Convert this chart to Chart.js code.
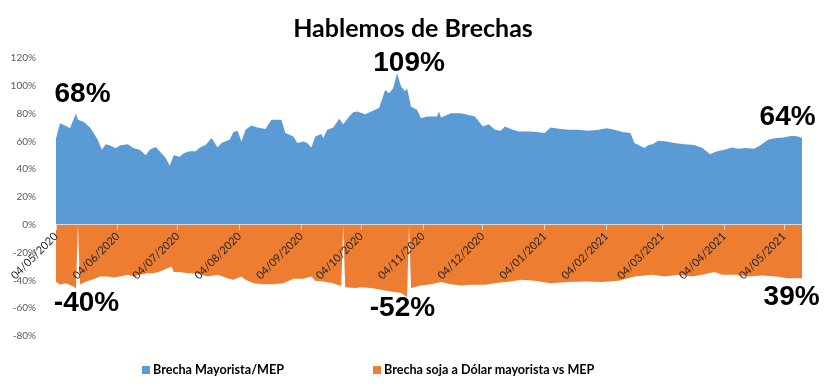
<!DOCTYPE html>
<html>
<head>
<meta charset="utf-8">
<script src="https://cdn.jsdelivr.net/npm/chart.js@4.4.1/dist/chart.umd.min.js"></script>
<style>
    body { margin: 0; background: #fff; }
    #wrap { position: relative; width: 826px; height: 387px; }
    #titulo { position: absolute; top: 12px; left: 0; width: 826px; text-align: center; font: bold 25px Lato, sans-serif; line-height: 30px; color: #000; }
    .ley { position: absolute; top: 362px; font: bold 12.6px Lato, sans-serif; color: #000; white-space: nowrap; line-height: 15px; }
    .ley span { display: inline-block; width: 8px; height: 8px; margin-right: 3px; }
</style>
<title>Hablemos de Brechas</title>
</head>
<body>
<div id="wrap">
    <canvas id="c1"></canvas>
    <div id="titulo">Hablemos de Brechas</div>
    <div class="ley" style="left:142px;"><span style="background:#5B9BD5"></span>Brecha Mayorista/MEP</div>
    <div class="ley" style="left:373px;"><span style="background:#ED7D31"></span>Brecha soja a Dólar mayorista vs MEP</div>
</div>
<script>
"use strict";

// dias contados desde el 04/05/2020
const inicio = "04/05/2020";

const diasMayorista = [0, 2, 5, 7, 10, 11, 14, 17, 18, 21, 23, 25, 27, 30, 32, 36, 39, 42, 45, 47, 50, 52, 55, 57, 59, 62, 64, 67, 70, 72, 75, 78, 81, 83, 87, 89, 91, 93, 95, 98, 101, 105, 108, 113, 115, 119, 121, 124, 126, 128, 130, 133, 134, 136, 139, 142, 144, 147, 149, 151, 155, 158, 162, 165, 167, 169, 171, 173, 175, 176, 178, 181, 183, 186, 191, 192, 193, 198, 203, 210, 214, 217, 220, 223, 225, 229, 232, 237, 241, 245, 248, 253, 257, 262, 267, 272, 276, 280, 284, 288, 290, 295, 297, 299, 302, 306, 310, 315, 320, 324, 328, 331, 335, 339, 342, 346, 350, 353, 357, 361, 365, 369, 372, 374];
const brechaMayorista = [62, 73, 71, 69.5, 80, 75.5, 74, 70, 68, 61, 54, 58, 57, 55, 57, 58, 55, 54, 50, 54, 56, 53, 48, 42.5, 50, 49, 51.5, 53, 53, 55.5, 57.5, 62.4, 55.6, 58.8, 61.2, 66.7, 67.6, 60, 68.3, 71.4, 70, 69, 75.5, 75.5, 66, 63.5, 58.8, 60, 58.8, 55.6, 63.5, 65.3, 62.4, 68.3, 70, 76.3, 72.4, 77.9, 81, 81.5, 79.6, 81.5, 84, 97, 94.7, 98.3, 109, 99.5, 96, 98.3, 85, 82.7, 76.7, 77.9, 77.9, 81.5, 77.2, 80.3, 80.3, 77.9, 70.7, 72.4, 68.3, 67.6, 70.7, 68.3, 67.1, 67.1, 66.7, 66, 70, 69, 68.3, 68.3, 67.6, 68.3, 69.5, 68.3, 66.7, 66, 58.8, 55.2, 57.5, 58, 60.4, 60, 58.8, 58, 57.5, 55.2, 50.8, 52.7, 54, 55.6, 54.7, 55.2, 54.7, 57, 61.2, 62.4, 62.8, 64, 63.5, 62.4];

const diasSoja = [0, 2, 5, 9, 10, 11, 12, 15, 19, 22, 26, 29, 32, 36, 39, 42, 46, 49, 52, 56, 58, 59, 62, 66, 69, 72, 76, 81, 86, 89, 93, 95, 99, 104, 109, 114, 119, 124, 128, 130, 134, 139, 142, 143, 144, 145, 150, 153, 158, 163, 168, 173, 176, 177, 178, 183, 188, 193, 198, 203, 208, 215, 220, 225, 228, 233, 240, 248, 257, 265, 274, 282, 290, 295, 299, 305, 312, 319, 325, 330, 334, 341, 347, 354, 361, 367, 374];
const brechaSoja = [-41, -43, -42, -44.5, -46, 0, -43, -41, -39, -37.2, -37.2, -37.9, -37.2, -36, -37.2, -36, -34.8, -34.8, -33.6, -31.2, -30, -34, -34, -34.8, -34.8, -35.5, -37.2, -36, -38.4, -39.6, -37.2, -39.6, -42, -42.7, -42.7, -42, -38.8, -38.8, -37.2, -40.3, -40.8, -42, -43.7, -44, 0, -45, -45.5, -45, -45.5, -46.8, -48, -49, -52, 0, -45.5, -43.7, -42.7, -41.2, -42.7, -43.7, -43.2, -43.2, -42, -41.2, -40.8, -39.6, -40.3, -42, -41.2, -40.8, -41.2, -40.3, -37.2, -36.5, -36, -37.2, -36, -37.2, -35.5, -34, -36, -36, -37.2, -36.5, -37.2, -38.4, -38.4];

const etiquetasMes = ["04/05/2020", "04/06/2020", "04/07/2020", "04/08/2020", "04/09/2020", "04/10/2020", "04/11/2020", "04/12/2020", "04/01/2021", "04/02/2021", "04/03/2021", "04/04/2021", "04/05/2021"];

// textos grandes sobre el grafico
const notasTexto = ["68%", "109%", "64%", "-40%", "-52%", "39%"];
const notasDia = [13.3, 177, 366.8, 15.3, 173.7, 368.8];
const notasValor = [94.2, 116.5, 77.3, -56.8, -60.4, -51.8];

function aFecha(s)
{
    let p = s.split("/");
    return Date.UTC(+p[2], +p[1] - 1, +p[0]);
}
const dia0 = aFecha(inicio);
const diasMes = etiquetasMes.map(s => Math.round((aFecha(s) - dia0) / 86400000));

let notas = {
    id: "notas",
    afterDatasetsDraw(chart)
    {
        let ctx = chart.ctx;
        ctx.save();
        ctx.font = "bold 28px 'Liberation Sans', Arial, sans-serif";
        ctx.fillStyle = "#000";
        ctx.textAlign = "center";
        ctx.textBaseline = "middle";
        for (let i = 0; i < notasTexto.length; i++)
        {
            ctx.fillText(notasTexto[i], chart.scales.x.getPixelForValue(notasDia[i]), chart.scales.y.getPixelForValue(notasValor[i]));
        }
        ctx.restore();
    }
};

let params =
{
    type: "line",
    data: {
        datasets: [
            {
                label: "Brecha Mayorista/MEP",
                data: diasMayorista.map((d, i) => ({ x: d, y: brechaMayorista[i] })),
                backgroundColor: "#5B9BD5",
                borderWidth: 0,
                pointRadius: 0,
                fill: "origin",
                tension: 0
            },
            {
                label: "Brecha soja a Dólar mayorista vs MEP",
                data: diasSoja.map((d, i) => ({ x: d, y: brechaSoja[i] })),
                backgroundColor: "#ED7D31",
                borderWidth: 0,
                pointRadius: 0,
                fill: "origin",
                tension: 0
            }]
    },
    options: {
        responsive: true,
        maintainAspectRatio: false,
        animation: false,
        layout: { padding: { left: 0, right: 24, top: 58, bottom: 51 } },
        plugins: {
            legend: { display: false },
            tooltip: { enabled: false },
            title: { display: false }
        },
        scales: {
            x: {
                type: "linear",
                min: 0,
                max: 374,
                position: { y: 0 },
                afterBuildTicks: s => { s.ticks = diasMes.map(v => ({ value: v })); },
                afterFit: s => { s.height = 0; },
                grid: { drawOnChartArea: false, drawTicks: true, tickLength: 5, color: "#d9d9d9", z: 1 },
                border: { display: true, color: "#d9d9d9", z: 1 },
                ticks: {
                    autoSkip: false,
                    minRotation: 45,
                    maxRotation: 45,
                    padding: 0,
                    color: "#262626",
                    font: { family: "Lato", size: 11 },
                    z: 1,
                    callback: (v, i) => etiquetasMes[i]
                }
            },
            y: {
                min: -80,
                max: 120,
                afterFit: s => { s.width = 56; },
                grid: { display: false },
                border: { display: false },
                ticks: {
                    stepSize: 20,
                    padding: 12,
                    color: "#595959",
                    font: { family: "Lato", size: 10 },
                    callback: v => v + "%"
                }
            }
        }
    },
    plugins: [notas]
};

let chart1 = new Chart(document.querySelector("#c1"), params);
</script>
</body>
</html>
